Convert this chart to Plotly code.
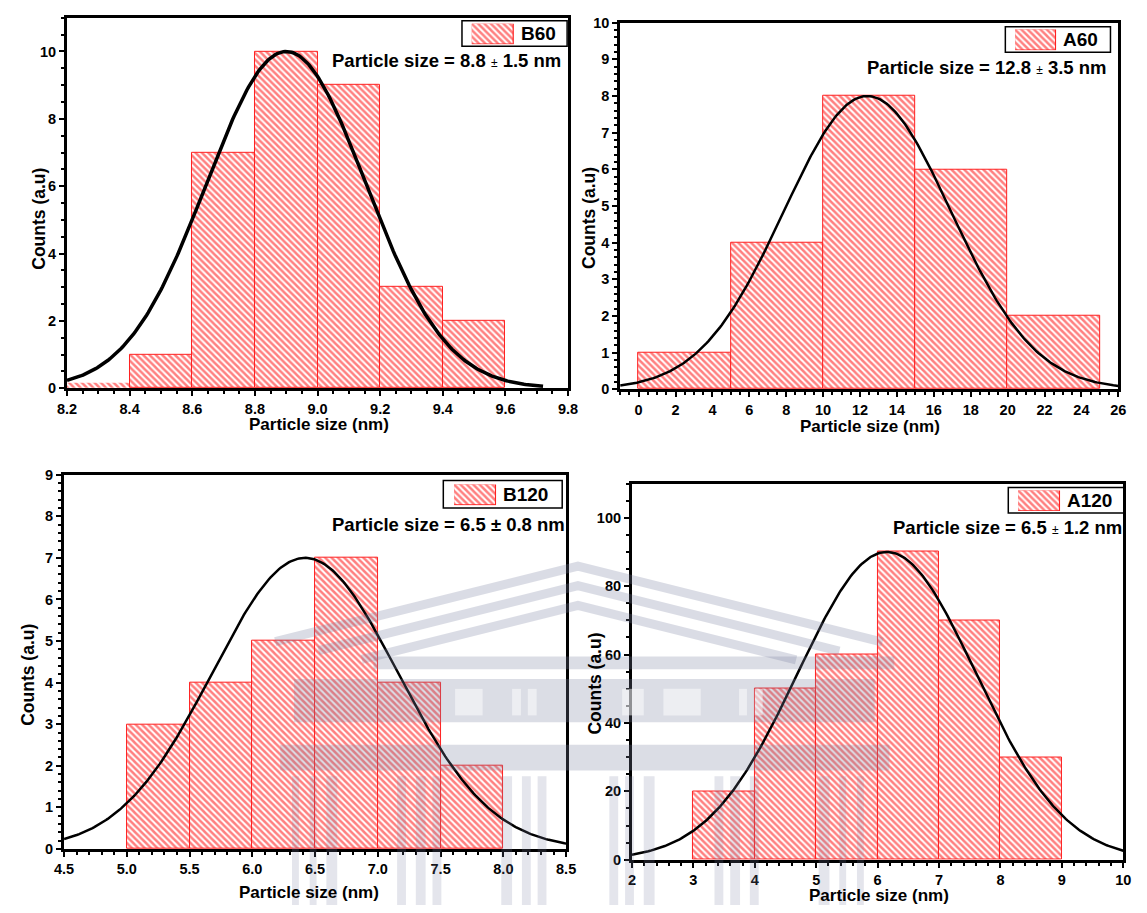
import numpy as np
import plotly.graph_objects as go

W, H = 1147, 913

# ---- histogram data (bin edges -> counts) ----
b60_edges = [8.2, 8.4, 8.6, 8.8, 9.0, 9.2, 9.4, 9.6]
b60_counts = [0.15, 1, 7, 10, 9, 3, 2]

a60_edges = [0, 5, 10, 15, 20, 25]
a60_counts = [1, 4, 8, 6, 2]

b120_edges = [5.0, 5.5, 6.0, 6.5, 7.0, 7.5, 8.0]
b120_counts = [3, 4, 5, 7, 4, 2]

a120_edges = [3, 4, 5, 6, 7, 8, 9]
a120_counts = [20, 50, 60, 90, 70, 30]

# ---- Gaussian fit parameters: amplitude, centre, width, curve span ----
b60_fit = [10, 8.9, 0.255, 8.2, 9.72]
a60_fit = [8, 12.4, 4.53, -1, 26]
b120_fit = [7, 6.42, 0.738, 4.5, 8.5]
a120_fit = [90, 6.15, 1.45, 2, 10]

names = ["B60", "A60", "B120", "A120"]
PM_SMALL = "<span style='font-size:12px;font-weight:normal'>±</span>"
labels = [
    f"Particle size = 8.8 {PM_SMALL} 1.5 nm",
    f"Particle size = 12.8 {PM_SMALL} 3.5 nm",
    "Particle size = 6.5 ± 0.8 nm",
    f"Particle size = 6.5 {PM_SMALL} 1.2 nm",
]

# plot areas in pixels: left, right, top, bottom
boxes = [
    (58, 568, 10, 387),
    (621, 1128, 15, 388),
    (55, 566, 475, 856),
    (633, 1133, 484, 867),
]
xranges = [[8.2, 9.8], [-1, 26], [4.5, 8.5], [2, 10]]
yranges = [[0, 11], [0, 10], [0, 9], [0, 110]]
xdticks = [0.2, 2, 0.5, 1]
ydticks = [2, 1, 1, 20]
xfmt = [".1f", "d", ".1f", "d"]
curve_w = [3.5, 2.5, 2.5, 2.5]

# legend frame (l, r, t, b) and swatch (l, r, t, b) in pixels
leg_boxes = [
    (460, 567, 13, 39),
    (1013, 1120, 19, 45),
    (441, 562, 481, 509),
    (1016, 1135, 488, 514),
]
swatches = [
    (470, 513, 16, 37),
    (1023, 1065, 22, 43),
    (452, 495, 485, 506),
    (1026, 1069, 491, 512),
]
label_pos = [(563, 53), (1118, 61), (567, 526), (1134, 529)]
xtitle_pos = [(314, 424), (875, 426), (304, 900), (884, 903)]
ytitle_pos = [(30, 214), (590, 214), (18, 679), (595, 688)]

RED = "#ff2020"
FONT = "Liberation Sans, Arial, sans-serif"

def px(x):
    return x / W

def py(y):
    return 1 - y / H

def pattern():
    return dict(shape="\\", fgcolor="#ff0000", bgcolor="white", size=4.5, solidity=0.55)

fig = go.Figure()

datasets = [
    (b60_edges, b60_counts, b60_fit),
    (a60_edges, a60_counts, a60_fit),
    (b120_edges, b120_counts, b120_fit),
    (a120_edges, a120_counts, a120_fit),
]

for i, (edges, counts, fit) in enumerate(datasets):
    k = "" if i == 0 else str(i + 1)
    xa, ya = "x" + k, "y" + k
    e = np.array(edges, dtype=float)
    centers = (e[:-1] + e[1:]) / 2
    widths = np.diff(e)
    # bins that barely rise above the baseline are drawn without an outline
    line_w = [0 if c < 0.5 else 1 for c in counts]
    fig.add_trace(go.Bar(
        x=centers, y=counts, width=widths, xaxis=xa, yaxis=ya,
        marker=dict(color="white", line=dict(color=RED, width=line_w), pattern=pattern()),
        showlegend=False, hoverinfo="skip",
    ))
    amp, mu, sig, x0, x1 = fit
    xs = np.linspace(x0, x1, 300)
    ys = amp * np.exp(-((xs - mu) ** 2) / (2 * sig ** 2))
    fig.add_trace(go.Scatter(
        x=xs, y=ys, mode="lines", xaxis=xa, yaxis=ya, cliponaxis=False,
        line=dict(color="black", width=curve_w[i]), showlegend=False, hoverinfo="skip",
    ))

    l, r, t, b = boxes[i]
    axis_common = dict(
        showline=True, linecolor="black", linewidth=3, mirror=True,
        ticks="outside", ticklen=5, tickwidth=2, tickcolor="black",
        showgrid=False, zeroline=False,
        tickfont=dict(family=FONT, size=14.5, color="black", weight="bold"),
        minor=dict(ticks="outside", ticklen=3, tickwidth=1.5, tickcolor="black"),
    )
    fig.layout["xaxis" + k] = dict(
        axis_common, domain=[px(l), px(r)], range=xranges[i], anchor=ya,
        dtick=xdticks[i], tick0=0, tickformat=xfmt[i],
    )
    fig.layout["yaxis" + k] = dict(
        axis_common, domain=[py(b), py(t)], range=yranges[i], anchor=xa,
        dtick=ydticks[i], tick0=0,
    )

    # axis titles
    tx, tyy = xtitle_pos[i]
    fig.add_annotation(xref="paper", yref="paper", x=px(tx), y=py(tyy),
                       text="Particle size (nm)", showarrow=False,
                       xanchor="center", yanchor="middle",
                       font=dict(family=FONT, size=17, color="black", weight="bold"))
    tx, tyy = ytitle_pos[i]
    fig.add_annotation(xref="paper", yref="paper", x=px(tx), y=py(tyy),
                       text="Counts (a.u)", showarrow=False, textangle=-90,
                       xanchor="center", yanchor="middle",
                       font=dict(family=FONT, size=17.5, color="black", weight="bold"))

    # legend frame with a hatched swatch drawn in its own small axes
    ll, lr, lt, lb = leg_boxes[i]
    fig.add_shape(type="rect", xref="paper", yref="paper",
                  x0=px(ll), x1=px(lr), y0=py(lb), y1=py(lt),
                  line=dict(color="black", width=1.5), fillcolor="rgba(0,0,0,0)", layer="above")
    sk = str(i + 5)
    sl, sr, st, sb = swatches[i]
    fig.add_trace(go.Bar(
        x=[0.5], y=[1], width=[1], xaxis="x" + sk, yaxis="y" + sk,
        marker=dict(color="white", line=dict(color=RED, width=1.2), pattern=pattern()),
        showlegend=False, hoverinfo="skip",
    ))
    fig.layout["xaxis" + sk] = dict(domain=[px(sl), px(sr)], range=[0, 1], visible=False,
                                    anchor="y" + sk, fixedrange=True)
    fig.layout["yaxis" + sk] = dict(domain=[py(sb), py(st)], range=[0, 1], visible=False,
                                    anchor="x" + sk, fixedrange=True)
    fig.add_annotation(xref="paper", yref="paper", x=px(sr + 5), y=py((lt + lb) / 2),
                       text=names[i], showarrow=False, xanchor="left", yanchor="middle",
                       font=dict(family=FONT, size=19, color="black", weight="bold"))
    lx, lyy = label_pos[i]
    fig.add_annotation(xref="paper", yref="paper", x=px(lx), y=py(lyy),
                       text=labels[i], showarrow=False, xanchor="right", yanchor="middle",
                       font=dict(family=FONT, size=18.5, color="black", weight="bold"))

# ---- faint building watermark over the lower panels ----
WM = "#7a80a0"
WM_OP = 0.27
wm_shapes = []
peak_x, peak_y = 578, 568
for dy in (0, 20, 40):
    top = peak_y + dy
    lx0 = 270 + dy * 2.2
    rx0 = 888 - dy * 2.2
    slope = 0.25
    wm_shapes.append(dict(
        type="path",
        path=(f"M {px(lx0)} {py(top + slope * (peak_x - lx0))} "
              f"L {px(peak_x)} {py(top)} "
              f"L {px(rx0)} {py(top + slope * (rx0 - peak_x))}"),
        line=dict(color=WM, width=9), opacity=WM_OP,
    ))
# horizontal bands: (left, right, top, bottom)
bands = [(370, 900, 660, 673), (289, 880, 683, 727), (275, 895, 750, 776)]
for (l, r, t, b) in bands:
    wm_shapes.append(dict(type="rect", x0=px(l), x1=px(r), y0=py(b), y1=py(t),
                          line=dict(width=0), fillcolor=WM, opacity=WM_OP))
# columns below the base band
cols = [(287, 294), (305, 312), (322, 333), (394, 403), (413, 423), (430, 439),
        (500, 511), (521, 530), (537, 546), (610, 619), (626, 635), (645, 656),
        (717, 726), (733, 743), (753, 762), (823, 834), (844, 851), (862, 869)]
for (l, r) in cols:
    wm_shapes.append(dict(type="rect", x0=px(l), x1=px(r), y0=py(913), y1=py(782),
                          line=dict(width=0), fillcolor=WM, opacity=WM_OP * 0.75))
for s in wm_shapes:
    s.update(xref="paper", yref="paper", layer="above")
    fig.add_shape(**s)

# windows punched through the frieze band
windows = [(453, 481), (511, 520), (527, 536), (623, 645), (665, 703), (742, 750), (758, 766)]
for (l, r) in windows:
    fig.add_shape(type="rect", xref="paper", yref="paper", x0=px(l), x1=px(r),
                  y0=py(720), y1=py(693), line=dict(width=0),
                  fillcolor="white", opacity=0.5, layer="above")

fig.update_layout(
    width=W, height=H, margin=dict(l=0, r=0, t=0, b=0),
    paper_bgcolor="white", plot_bgcolor="rgba(0,0,0,0)",
    bargap=0,
)

fig.write_html("out.html")
